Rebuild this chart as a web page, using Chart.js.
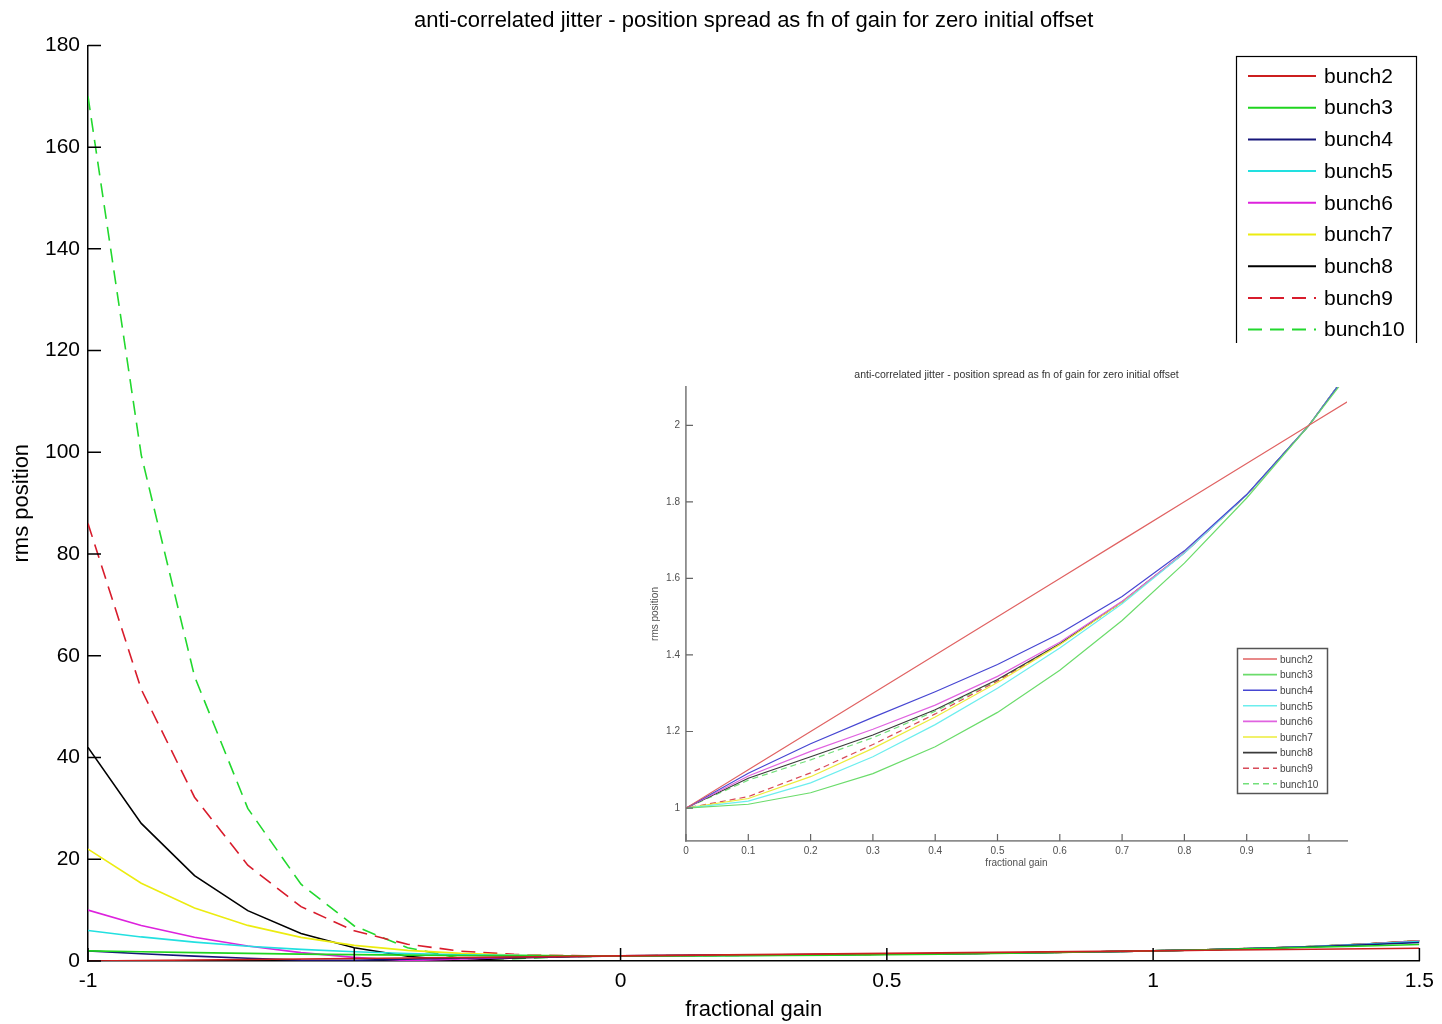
<!DOCTYPE html>
<html>
<head>
<meta charset="utf-8">
<title>anti-correlated jitter</title>
<script src="https://cdn.jsdelivr.net/npm/chart.js@4.4.1/dist/chart.umd.min.js"></script>
<style>
  html, body { margin: 0; padding: 0; background: #fff; }
  #wrap { position: relative; width: 1442px; height: 1024px; overflow: hidden; }
  #mainChart { position: absolute; left: 0; top: 0; }
  #insetChart { position: absolute; left: 640px; top: 343px; background: #fff; }
</style>
</head>
<body>
<div id="wrap">
  <canvas id="mainChart" width="1442" height="1024"></canvas>
  <canvas id="insetChart" width="790" height="537"></canvas>
</div>
<script>
// fractional gain samples
const gains = [-1, -0.9, -0.8, -0.7, -0.6, -0.5, -0.4, -0.3, -0.2, -0.1, 0, 0.1, 0.2, 0.3, 0.4, 0.5, 0.6, 0.7, 0.8, 0.9, 1, 1.1, 1.2, 1.3, 1.4, 1.5];

// rms position per bunch
const bunch2  = [0, 0.1, 0.2, 0.3, 0.4, 0.5, 0.6, 0.7, 0.8, 0.9, 1, 1.1, 1.2, 1.3, 1.4, 1.5, 1.6, 1.7, 1.8, 1.9, 2, 2.1, 2.2, 2.3, 2.4, 2.5];
const bunch3  = [2, 1.81, 1.64, 1.49, 1.36, 1.25, 1.16, 1.09, 1.04, 1.01, 1, 1.01, 1.04, 1.09, 1.16, 1.25, 1.36, 1.49, 1.64, 1.81, 2, 2.21, 2.44, 2.69, 2.96, 3.25];
const bunch4  = [2, 1.439, 0.952, 0.533, 0.176, 0.125, 0.376, 0.583, 0.752, 0.889, 1, 1.091, 1.168, 1.237, 1.304, 1.375, 1.456, 1.553, 1.672, 1.819, 2, 2.221, 2.488, 2.807, 3.184, 3.625];
const bunch5  = [6, 4.734, 3.714, 2.906, 2.282, 1.813, 1.474, 1.242, 1.098, 1.022, 1, 1.018, 1.066, 1.134, 1.218, 1.313, 1.418, 1.534, 1.666, 1.818, 2, 2.222, 2.498, 2.842, 3.274, 3.813];
const bunch6  = [10, 6.995, 4.684, 2.94, 1.651, 0.719, 0.063, 0.385, 0.683, 0.876, 1, 1.084, 1.148, 1.206, 1.269, 1.344, 1.433, 1.54, 1.667, 1.818, 2, 2.222, 2.5, 2.853, 3.309, 3.906];
const bunch7  = [22, 15.29, 10.43, 7.0, 4.641, 3.078, 2.088, 1.499, 1.181, 1.037, 1, 1.025, 1.082, 1.156, 1.238, 1.328, 1.427, 1.538, 1.667, 1.818, 2, 2.222, 2.5, 2.856, 3.324, 3.953];
const bunch8  = [42, 27.05, 16.78, 9.898, 5.425, 2.617, 0.924, 0.051, 0.583, 0.86, 1, 1.078, 1.134, 1.191, 1.257, 1.336, 1.429, 1.539, 1.667, 1.818, 2, 2.222, 2.5, 2.857, 3.33, 3.977];
const bunch9  = [86, 53.4, 32.2, 18.83, 10.68, 5.926, 3.293, 1.934, 1.3, 1.054, 1, 1.03, 1.092, 1.166, 1.246, 1.332, 1.428, 1.538, 1.667, 1.818, 2, 2.222, 2.5, 2.857, 3.332, 3.988];
const bunch10 = [170, 99.46, 55.96, 30.0, 15.09, 6.889, 2.61, 0.514, 0.44, 0.84, 1, 1.073, 1.126, 1.184, 1.253, 1.334, 1.429, 1.538, 1.667, 1.818, 2, 2.222, 2.5, 2.857, 3.333, 3.994];

const seriesNames = ['bunch2', 'bunch3', 'bunch4', 'bunch5', 'bunch6', 'bunch7', 'bunch8', 'bunch9', 'bunch10'];
const seriesValues = [bunch2, bunch3, bunch4, bunch5, bunch6, bunch7, bunch8, bunch9, bunch10];

const mainXTicks = [-1, -0.5, 0, 0.5, 1, 1.5];
const mainYTicks = [0, 20, 40, 60, 80, 100, 120, 140, 160, 180];
const insetXTicks = [0, 0.1, 0.2, 0.3, 0.4, 0.5, 0.6, 0.7, 0.8, 0.9, 1];
const insetYTicks = [1, 1.2, 1.4, 1.6, 1.8, 2];

const TITLE = 'anti-correlated jitter - position spread as fn of gain for zero initial offset';
const FONT = "'Liberation Sans', Arial, Helvetica, sans-serif";

const mainColors  = ['#cc1f1f', '#1fd41f', '#16167a', '#22e0e0', '#dd22dd', '#ecec10', '#000000', '#d81c2c', '#22d82e'];
const insetColors = ['#e06262', '#6bdc6b', '#4646d2', '#6ceeee', '#e063e0', '#ecec3a', '#3a3a3a', '#d84a58', '#72e07a'];
const isDashed = [false, false, false, false, false, false, false, true, true];

// MATLAB-style ticks pointing into the plot
const inwardTicks = {
  id: 'inwardTicks',
  afterDraw(chart, args, opts) {
    const { ctx, chartArea: a, scales: { x, y } } = chart;
    ctx.save();
    ctx.strokeStyle = opts.color;
    ctx.lineWidth = opts.width;
    ctx.beginPath();
    x.ticks.forEach(t => {
      const px = x.getPixelForValue(t.value);
      ctx.moveTo(px, a.bottom);
      ctx.lineTo(px, a.bottom - opts.length);
    });
    y.ticks.forEach(t => {
      const py = y.getPixelForValue(t.value);
      ctx.moveTo(a.left, py);
      ctx.lineTo(a.left + opts.length, py);
    });
    ctx.stroke();
    ctx.restore();
  }
};

// boxed legend at a fixed spot, drawn from the datasets
const boxLegend = {
  id: 'boxLegend',
  afterDraw(chart, args, o) {
    const ctx = chart.ctx;
    ctx.save();
    ctx.fillStyle = '#fff';
    ctx.fillRect(o.x, o.y, o.w, o.h);
    ctx.strokeStyle = o.border;
    ctx.lineWidth = o.borderWidth;
    ctx.strokeRect(o.x + 0.5, o.y + 0.5, o.w, o.h);
    ctx.font = o.font;
    ctx.textBaseline = 'middle';
    chart.data.datasets.forEach((ds, i) => {
      const cy = o.y + o.firstRow + i * o.rowGap;
      ctx.strokeStyle = ds.borderColor;
      ctx.lineWidth = ds.borderWidth + 0.4;
      ctx.setLineDash(ds.borderDash || []);
      ctx.beginPath();
      ctx.moveTo(o.x + o.lineStart, cy);
      ctx.lineTo(o.x + o.lineEnd, cy);
      ctx.stroke();
      ctx.setLineDash([]);
      ctx.fillStyle = o.textColor;
      ctx.fillText(ds.label, o.x + o.textX, cy + 1);
    });
    ctx.restore();
  }
};

function buildDatasets(colors, width, dash) {
  return seriesNames.map((name, i) => ({
    label: name,
    data: gains.map((g, k) => ({ x: g, y: seriesValues[i][k] })),
    borderColor: colors[i],
    borderWidth: width,
    borderDash: isDashed[i] ? dash : [],
    pointRadius: 0,
    tension: 0,
    fill: false
  }));
}

// plain labels like MATLAB: -1, -0.5, 0, 1.2, 2
const plainLabel = v => String(Math.round(v * 10) / 10);

function axis(opts) {
  return {
    type: 'linear',
    min: opts.min,
    max: opts.max,
    afterBuildTicks: s => { s.ticks = opts.ticks.map(v => ({ value: v })); },
    afterFit: s => { if (opts.width) s.width = opts.width; if (opts.height) s.height = opts.height; },
    grid: { display: false, drawTicks: false },
    border: { display: true, color: opts.lineColor, width: opts.lineWidth },
    ticks: {
      color: opts.textColor,
      font: { family: FONT, size: opts.tickSize },
      padding: opts.tickPad,
      maxRotation: 0,
      autoSkip: false,
      callback: plainLabel
    },
    title: {
      display: true,
      text: opts.title,
      color: opts.textColor,
      font: { family: FONT, size: opts.titleSize },
      padding: opts.titlePad
    }
  };
}

new Chart(document.getElementById('mainChart'), {
  type: 'line',
  data: { datasets: buildDatasets(mainColors, 1.6, [14, 8]) },
  options: {
    responsive: false,
    animation: false,
    devicePixelRatio: 1,
    layout: { padding: { left: 0, right: 19, top: 0, bottom: 0 } },
    scales: {
      x: axis({ min: -1, max: 1.5, ticks: mainXTicks, height: 63, lineColor: '#000', lineWidth: 1.5,
                textColor: '#000', tickSize: 21, tickPad: 8, title: 'fractional gain', titleSize: 22,
                titlePad: { top: 0, bottom: 1 } }),
      y: axis({ min: 0, max: 180, ticks: mainYTicks, width: 88, lineColor: '#000', lineWidth: 1.5,
                textColor: '#000', tickSize: 21, tickPad: 8, title: 'rms position', titleSize: 22,
                titlePad: { top: 9, bottom: 0 } })
    },
    plugins: {
      legend: { display: false },
      tooltip: { enabled: false },
      title: {
        display: true, text: TITLE, fullSize: false, color: '#000',
        font: { family: FONT, size: 22, weight: 'normal' },
        padding: { top: 8, bottom: 11 }
      },
      inwardTicks: { color: '#000', width: 1.5, length: 13 },
      boxLegend: { x: 1236, y: 56, w: 180, h: 300, border: '#000', borderWidth: 1.2,
                   font: '21px ' + FONT, textColor: '#000', firstRow: 20, rowGap: 31.7,
                   lineStart: 12, lineEnd: 80, textX: 88 }
    }
  },
  plugins: [inwardTicks, boxLegend]
});

new Chart(document.getElementById('insetChart'), {
  type: 'line',
  data: { datasets: buildDatasets(insetColors, 1.2, [6, 4]) },
  options: {
    responsive: false,
    animation: false,
    devicePixelRatio: 1,
    layout: { padding: { left: 0, right: 83, top: 0, bottom: 0 } },
    scales: {
      x: axis({ min: 0, max: 1.061, ticks: insetXTicks, height: 39, lineColor: '#8c8c8c', lineWidth: 1.8,
                textColor: '#505050', tickSize: 10, tickPad: 4, title: 'fractional gain', titleSize: 10,
                titlePad: { top: 0, bottom: 11 } }),
      y: axis({ min: 0.914, max: 2.1, ticks: insetYTicks, width: 46, lineColor: '#8c8c8c', lineWidth: 1.8,
                textColor: '#505050', tickSize: 10, tickPad: 6, title: 'rms position', titleSize: 10,
                titlePad: { top: 9, bottom: 0 } })
    },
    plugins: {
      legend: { display: false },
      tooltip: { enabled: false },
      title: {
        display: true, text: TITLE, fullSize: false, color: '#333',
        font: { family: FONT, size: 10.5, weight: 'normal' },
        padding: { top: 26, bottom: 5.4 }
      },
      inwardTicks: { color: '#666', width: 1.2, length: 7 },
      boxLegend: { x: 597, y: 305, w: 90, h: 145, border: '#555', borderWidth: 1.5,
                   font: '10px ' + FONT, textColor: '#444', firstRow: 11, rowGap: 15.6,
                   lineStart: 6, lineEnd: 40, textX: 43 }
    }
  },
  plugins: [inwardTicks, boxLegend]
});
</script>
</body>
</html>
